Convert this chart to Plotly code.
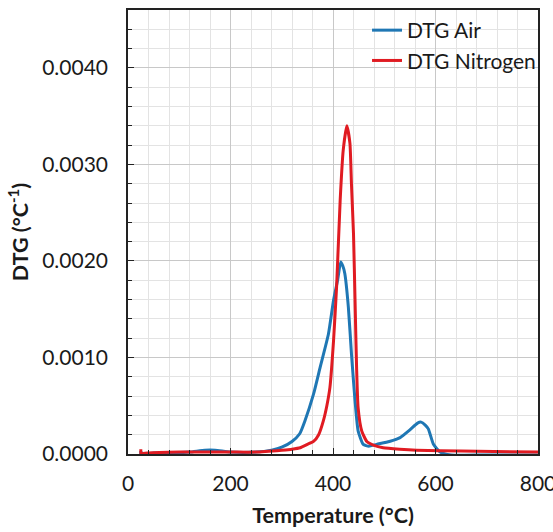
import plotly.graph_objects as go

# ---- Data ----
air_T = [25, 25.5, 27, 30, 50, 80, 120, 150, 170, 200, 250, 280, 300, 320, 335, 345,
         362, 375, 391, 401, 409, 415, 419, 423, 430, 436, 443, 449, 459, 470, 485,
         510, 531, 550, 565, 572, 580, 586, 596, 609, 630, 700, 800]
air_dtg = [0.00003, -0.00017, 0.00001, 0.0, 0.00001, 0.00001, 0.00002, 0.00004, 0.00004,
           0.00002, 0.00002, 0.00004, 0.00007, 0.00013, 0.00021, 0.00034, 0.00062, 0.0009,
           0.00124, 0.00159, 0.0018, 0.00199, 0.00195, 0.00187, 0.00152, 0.00104, 0.00055,
           0.00024, 0.0001, 0.00008, 0.0001, 0.00013, 0.00017, 0.00025, 0.00032, 0.00033,
           0.0003, 0.00026, 0.0001, 0.00002, -0.00001, -0.00001, -0.00001]

n2_T = [25, 25.5, 27, 40, 100, 200, 250, 300, 320, 336, 350, 362, 372, 381, 388, 394,
        401, 407, 414, 420, 427, 433, 436, 440, 443, 446, 449, 456, 466, 480, 498, 530,
        563, 650, 800]
n2_dtg = [0.00005, -0.0001, 0.0, 0.00001, 0.00002, 0.00002, 0.00002, 0.00004, 0.00005,
          0.000065, 0.0001, 0.00013, 0.0002, 0.00034, 0.0005, 0.00069, 0.00117, 0.00173,
          0.00263, 0.00315, 0.0034, 0.00322, 0.0028, 0.00228, 0.00159, 0.0009, 0.00048,
          0.00024, 0.00013, 0.00009, 0.000065, 0.00005, 0.00004, 0.00003, 0.00002]

x_ticks = [0, 200, 400, 600, 800]
y_ticks = [0.0, 0.001, 0.002, 0.003, 0.004]
y_labels = ["0.0000", "0.0010", "0.0020", "0.0030", "0.0040"]

FONT = "Lato"
TXT = "#1a1a1a"

fig = go.Figure()
fig.add_trace(go.Scatter(x=air_T, y=air_dtg, mode="lines", name="DTG Air",
                         legendgroup="a",
                         line=dict(color="#1f77b4", width=3, shape="spline", smoothing=0.5)))
fig.add_trace(go.Scatter(x=n2_T, y=n2_dtg, mode="lines", name="DTG Nitrogen",
                         legendgroup="b",
                         line=dict(color="#e01b22", width=3, shape="spline", smoothing=0.5)))

fig.update_layout(
    width=553, height=532,
    margin=dict(l=128, r=15, t=10, b=78, autoexpand=False),
    paper_bgcolor="white", plot_bgcolor="white",
    font=dict(family=FONT, size=21, color=TXT),
    showlegend=True,
    legend=dict(x=0.583, y=1.0, xanchor="left", yanchor="top",
                bgcolor="rgba(0,0,0,0)", borderwidth=0,
                font=dict(family=FONT, size=21, color=TXT),
                traceorder="grouped", tracegroupgap=0),
)

fig.update_xaxes(
    range=[0, 800], tickvals=x_ticks, ticktext=[str(v) for v in x_ticks],
    showgrid=True, gridcolor="#c8c8c8", gridwidth=1,
    minor=dict(dtick=40, showgrid=True, gridcolor="#e3e3e3", gridwidth=1,
               ticks="inside", ticklen=4, tickcolor="#222"),
    ticks="inside", ticklen=6, tickcolor="#222",
    showline=True, linecolor="#222", linewidth=1.5, mirror=True,
    zeroline=False, ticklabeloverflow="allow", ticklabelstandoff=10,
    automargin=False,
    title=dict(text="<b>Temperature (°C)</b>", font=dict(family=FONT, size=21.5), standoff=14),
    tickfont=dict(family=FONT, size=21),
)
fig.update_yaxes(
    range=[0, 0.0046], tickvals=y_ticks, ticktext=y_labels,
    showgrid=True, gridcolor="#c8c8c8", gridwidth=1,
    minor=dict(dtick=0.0002, showgrid=True, gridcolor="#e3e3e3", gridwidth=1,
               ticks="inside", ticklen=4, tickcolor="#222"),
    ticks="inside", ticklen=6, tickcolor="#222",
    showline=True, linecolor="#222", linewidth=1.5, mirror=True,
    zeroline=False, ticklabelstandoff=14, automargin=False,
    title=dict(text="<b>DTG (°C<sup>-1</sup>)</b>", font=dict(family=FONT, size=21.5), standoff=8),
    tickfont=dict(family=FONT, size=21),
)

fig.write_html("out.html")
